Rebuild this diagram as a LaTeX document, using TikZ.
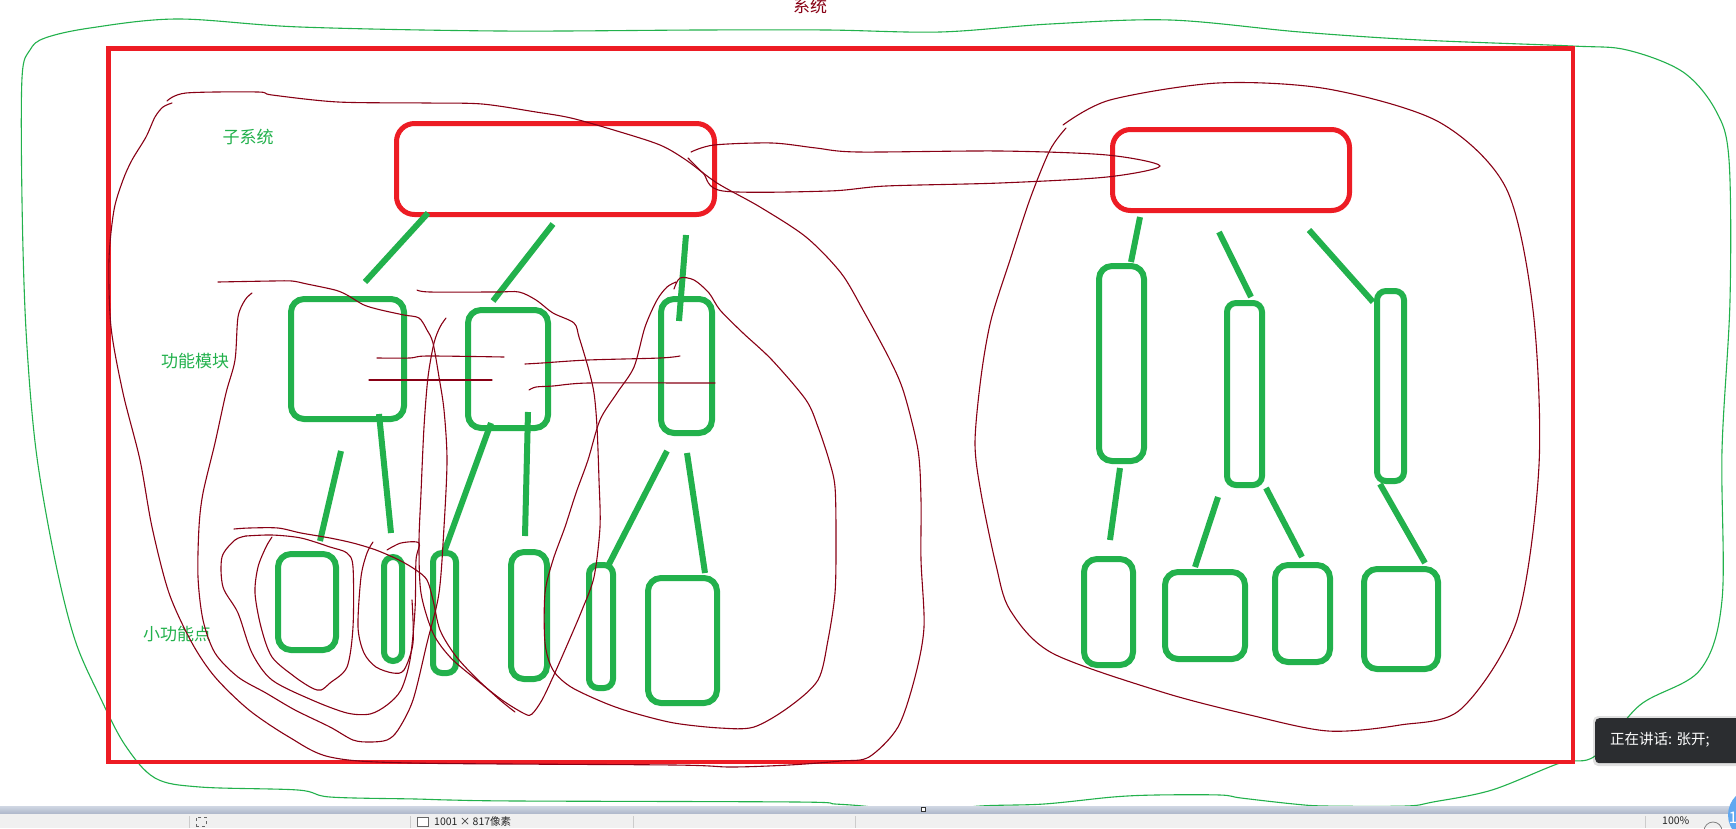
\documentclass[tikz,border=0pt]{standalone}
\usepackage{fontspec}
\newfontfamily\cjk{Noto Sans CJK SC}
\definecolor{pgreen}{RGB}{34,177,76}
\definecolor{pred}{RGB}{237,28,36}
\definecolor{pdark}{RGB}{136,0,21}
\definecolor{tipbg}{RGB}{43,45,48}
\definecolor{barbg}{RGB}{240,240,240}
\begin{document}
\begin{tikzpicture}[x=1pt,y=-1pt,
  gbox/.style={draw=pgreen, line width=6pt, rounded corners=13pt, inner sep=0pt, outer sep=0pt},
  gnarrow/.style={gbox, rounded corners=9pt},
  rbox/.style={draw=pred, line width=5pt, rounded corners=18pt, inner sep=0pt},
  gline/.style={draw=pgreen, line width=6pt},
  scrib/.style={draw=pdark, line width=1.1pt, line join=round, line cap=round},
  outline/.style={draw=pgreen, line width=1.1pt},
  lbl/.style={text=pgreen, font=\cjk\fontsize{17}{20}\selectfont, inner sep=0pt},
  bartxt/.style={anchor=north west, inner sep=0pt, font=\cjk\fontsize{10.5}{12}\selectfont, text=black!85}]
\useasboundingbox (0,0) rectangle (1736,828);
\fill[white] (0,0) rectangle (1736,828);

% outer green hand-drawn loop
\draw[outline] plot[smooth cycle, tension=0.55] coordinates {
 (22,78) (30,50) (45,38) (90,28) (177,19) (300,27) (500,31) (700,30) (827,30) (940,32)
 (1050,24) (1170,20) (1300,32) (1420,40) (1572,46) (1627,50) (1683,72) (1716,111) (1729,160)
 (1730,300) (1722,450) (1722,600) (1700,670) (1640,705) (1595,756) (1560,763) (1492,790)
 (1433,802) (1406,806) (1326,806) (1294,804) (1241,798) (1220,795) (1156,795) (1113,797)
 (1044,804) (980,806) (920,812) (863,806) (835,804) (797,802) (519,801) (450,800) (416,799)
 (330,797) (298,790) (200,787) (155,778) (125,745) (100,697) (75,640) (55,560) (36,450)
 (26,330) (22,200)};

\node[text=pdark, font=\cjk\fontsize{17}{20}\selectfont, inner sep=0pt] (title) at (810,6) {系统};

% big red frame
\node[draw=pred, line width=4.5pt, minimum width=1464.5pt, minimum height=713.5pt, inner sep=0pt, anchor=north west] (frame) at (106.25,46.25) {};

% labels
\node[lbl] (lsub) at (248,137) {子系统};
\node[lbl] (lmod) at (195,361) {功能模块};
\node[lbl] (lpt) at (177,634) {小功能点};

% subsystems
\node[rbox, minimum width=318pt, minimum height=91pt] (subL) at (555.5,169) {};
\node[rbox, minimum width=237pt, minimum height=81pt] (subR) at (1231,170) {};

% function modules
\node[gbox, minimum width=113pt, minimum height=120pt] (f1) at (347.5,359) {};
\node[gbox, minimum width=80pt, minimum height=118pt] (f2) at (508,369) {};
\node[gbox, minimum width=51pt, minimum height=134pt] (f3) at (686.5,366) {};
\node[gbox, minimum width=45pt, minimum height=195pt] (f4) at (1121.5,363.5) {};
\node[gnarrow, minimum width=35pt, minimum height=182pt] (f5) at (1244.5,394) {};
\node[gnarrow, minimum width=27pt, minimum height=190pt] (f6) at (1390.5,386) {};

% small function points
\node[gbox, minimum width=58pt, minimum height=96pt] (s1) at (307,602) {};
\node[gnarrow, minimum width=18pt, minimum height=104pt] (s2) at (393,609) {};
\node[gnarrow, minimum width=23pt, minimum height=120pt] (s3) at (444.5,613) {};
\node[gbox, minimum width=36pt, minimum height=127pt] (s4) at (529,615.5) {};
\node[gnarrow, minimum width=24pt, minimum height=123pt] (s5) at (601,626.5) {};
\node[gbox, minimum width=69pt, minimum height=125pt] (s6) at (682.5,640.5) {};
\node[gbox, minimum width=49pt, minimum height=106pt] (s7) at (1108.5,612) {};
\node[gbox, minimum width=80pt, minimum height=87pt] (s8) at (1205,615.5) {};
\node[gbox, minimum width=55pt, minimum height=97pt] (s9) at (1302.5,613.5) {};
\node[gbox, minimum width=74pt, minimum height=100pt] (s10) at (1401,619) {};

% connector end points
\coordinate (c1a) at (428,213); \coordinate (c1b) at (365,282);
\coordinate (c2a) at (553,224); \coordinate (c2b) at (493,301);
\coordinate (c3a) at (686,235); \coordinate (c3b) at (679,321);
\coordinate (c4a) at (341,451); \coordinate (c4b) at (320,541);
\coordinate (c5a) at (379,414); \coordinate (c5b) at (391,533);
\coordinate (c6a) at (491,423); \coordinate (c6b) at (443,555);
\coordinate (c7a) at (528,412); \coordinate (c7b) at (525,536);
\coordinate (c8a) at (667,451); \coordinate (c8b) at (607,568);
\coordinate (c9a) at (687,453); \coordinate (c9b) at (705,573);
\coordinate (r1a) at (1140,217); \coordinate (r1b) at (1131,262);
\coordinate (r2a) at (1219,232); \coordinate (r2b) at (1251,297);
\coordinate (r3a) at (1309,230); \coordinate (r3b) at (1373,302);
\coordinate (r4a) at (1120,468); \coordinate (r4b) at (1110,540);
\coordinate (r5a) at (1218,497); \coordinate (r5b) at (1195,567);
\coordinate (r6a) at (1266,488); \coordinate (r6b) at (1302,557);
\coordinate (r7a) at (1380,484); \coordinate (r7b) at (1425,563);
\foreach \a/\b in {c1a/c1b,c2a/c2b,c3a/c3b,c4a/c4b,c5a/c5b,c6a/c6b,c7a/c7b,c8a/c8b,c9a/c9b,
  r1a/r1b,r2a/r2b,r3a/r3b,r4a/r4b,r5a/r5b,r6a/r6b,r7a/r7b}
  \draw[gline] (\a) -- (\b);

% dark red scribbles
\draw[scrib] plot[smooth, tension=0.5] coordinates {
 (167,101) (186,93) (258,92) (272,95) (338,102) (427,103) (482,104) (536,112) (571,118)
 (617,131) (660,145) (686,160) (717,183) (760,207) (806,237) (841,273) (863,310) (890,360)
 (904,393) (918,450) (921,500) (921,560) (924,627) (915,677) (898,727) (869,757) (841,761)
 (789,765) (731,767) (674,765) (410,763) (330,757) (289,737) (249,710) (215,677) (192,643)
 (169,593) (152,527) (140,460) (123,393) (111,327) (109,260) (114,210) (123,180) (132,160)
 (146,137) (155,117) (163,107) (172,103)};
\draw[scrib] plot[smooth, tension=0.5] coordinates {
 (691,152) (714,145) (772,143) (816,148) (858,152) (1000,151) (1107,155) (1160,166)
 (1107,177) (1000,183) (886,186) (829,191) (723,191) (703,173) (688,158)};
\draw[scrib] plot[smooth, tension=0.5] coordinates {
 (674,289) (680,278) (694,280) (709,293) (720,310) (743,333) (772,360) (806,400) (818,427)
 (829,460) (835,487) (836,540) (835,593) (828,640) (818,680) (789,707) (754,727) (720,728)
 (674,723) (634,713) (605,703) (571,687) (553,670) (545,643) (545,593) (553,560) (565,527)
 (576,493) (588,460) (600,420) (617,393) (634,367) (645,327) (657,300) (667,287) (676,282)};
\draw[scrib] plot[smooth, tension=0.5] coordinates {
 (417,290) (430,292) (496,292) (519,292) (536,300) (553,313) (574,323) (579,337) (588,367)
 (594,393) (597,427) (599,480) (600,527) (594,577) (582,610) (568,643) (553,677) (542,700)
 (532,714) (525,714) (502,700) (473,677) (450,657) (433,633) (421,593) (419,543) (421,493)
 (424,427) (428,377) (434,343) (440,327) (446,318)};
\draw[scrib] plot[smooth, tension=0.5] coordinates {
 (218,282) (272,281) (292,281) (307,284) (335,290) (347,295) (364,305) (381,310) (404,315)
 (419,318) (427,330) (433,343) (439,377) (444,410) (447,460) (444,527) (439,593) (427,643)
 (413,700) (398,730) (387,740) (370,742) (353,740) (330,727) (295,710) (266,693) (238,677)
 (215,653) (203,620) (198,577) (199,527) (203,493) (215,443) (226,393) (235,360) (238,317)
 (245,300) (252,293)};
\draw[scrib] plot[smooth, tension=0.5] coordinates {
 (246,536) (272,535) (301,538) (330,547) (347,553) (353,567) (353,627) (347,667) (330,683)
 (321,690) (312,688) (295,677) (272,657) (261,627) (255,593) (258,567) (266,547) (272,537)};
\draw[scrib] plot[smooth, tension=0.5] coordinates {
 (246,536) (235,540) (222,557) (223,587) (238,613) (252,653) (272,680) (312,700) (347,713)
 (370,714) (387,705) (401,690) (410,660) (415,610) (416,560) (419,543) (401,543) (387,550)};
\draw[scrib] plot[smooth, tension=0.5] coordinates {
 (373,542) (367,553) (361,577) (358,627) (364,653) (376,667) (393,673) (404,670) (413,643) (412,600)};
\draw[scrib] plot[smooth, tension=0.5] coordinates {
 (234,529) (249,528) (278,528) (301,533) (330,538) (353,543) (376,550) (399,560) (416,570)
 (427,580) (433,600) (440,630) (455,655) (475,677) (500,700) (515,712)};
\draw[scrib] plot[smooth, tension=0.5] coordinates {(377,358) (410,358) (427,356) (504,357)};
\draw[scrib] (369,380) -- (492,380);
\draw[scrib] plot[smooth, tension=0.5] coordinates {(525,364) (542,363) (588,360) (660,358) (680,356)};
\draw[scrib] plot[smooth, tension=0.5] coordinates {(529,390) (536,387) (553,386) (588,383) (686,383) (715,383)};
\draw[scrib] plot[smooth, tension=0.5] coordinates {
 (1063,125) (1110,100) (1218,83) (1328,89) (1439,122) (1506,188) (1533,310) (1539,465)
 (1517,620) (1461,709) (1400,725) (1328,731) (1250,715) (1162,692) (1052,653) (1010,610)
 (996,565) (981,493) (975,443) (981,377) (991,320) (1010,260) (1030,199) (1050,150) (1066,128)};

% status bar
\shade[top color={rgb,255:red,208;green,215;blue,227}, bottom color={rgb,255:red,172;green,182;blue,201}] (0,806) rectangle (1736,814);
\fill[barbg] (0,814) rectangle (1736,828);
\foreach \sx in {189,410,633,855,1645} \draw[gray!40, line width=0.8pt] (\sx,816) -- (\sx,828);
\node[draw=black!80, fill=white, line width=0.8pt, minimum size=4pt, inner sep=0pt] (grip) at (923,809) {};
\node[draw=black!60, dashed, line width=0.6pt, minimum width=10pt, minimum height=9pt, inner sep=0pt, anchor=north west] (selicon) at (196,817) {};
\node[draw=black!60, fill=white, line width=0.6pt, minimum width=11pt, minimum height=9pt, inner sep=0pt, anchor=north west] (imgicon) at (417,817) {};
\node[bartxt] (size) at (434,816) {1001 × 817像素};
\node[bartxt] (zoomtxt) at (1662,816) {100\%};
\node[draw=gray, line width=0.8pt, circle, minimum size=18pt, inner sep=0pt] (minus) at (1713,831) {};
\node[fill={rgb,255:red,96;green,168;blue,240}, circle, minimum size=54pt, inner sep=0pt] (badge) at (1755,815) {};
\node[text=white, font=\cjk\fontsize{16}{18}\selectfont, inner sep=0pt] (badgetxt) at (1733,818) {1};

% speaking tooltip
\fill[black, opacity=0.12, rounded corners=5pt] (1593,716) rectangle (1750,766);
\node[fill=tipbg, rounded corners=4pt, minimum width=150pt, minimum height=45pt, anchor=north west, inner sep=0pt] (tip) at (1595,718) {};
\node[anchor=west, inner sep=0pt, text=white, font=\cjk\fontsize{14.5}{16}\selectfont] (tiptxt) at (1610,740) {正在讲话: 张开;};
\end{tikzpicture}
\end{document}
